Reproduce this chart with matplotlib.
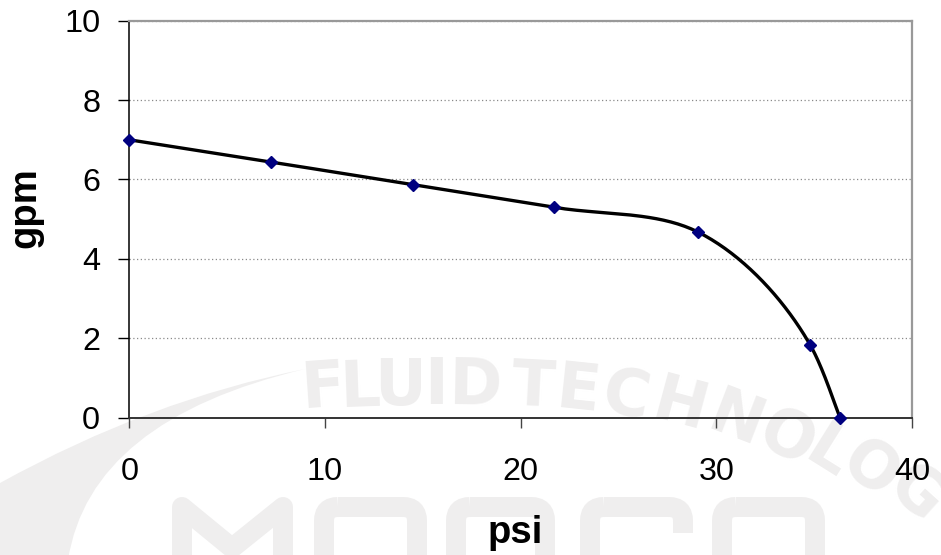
import numpy as np
import matplotlib
matplotlib.use("Agg")
import matplotlib.pyplot as plt
from matplotlib.path import Path
from matplotlib.patches import PathPatch, FancyBboxPatch, Rectangle

# ---- data ----
psi = [0.0, 7.25, 14.48, 21.7, 29.05, 34.8, 36.32]
gpm = [7.0, 6.44, 5.87, 5.30, 4.68, 1.83, 0.0]
x_ticks = [0, 10, 20, 30, 40]
y_ticks = [0, 2, 4, 6, 8, 10]
x_label = "psi"
y_label = "gpm"
wm_word1 = "FLUID TECHNOLOG"   # the visible part of the watermark (rest is off-canvas)
wm_word2 = "MARCO"

W, H = 941, 555
plt.rcParams['font.family'] = ['Liberation Sans', 'DejaVu Sans']
fig = plt.figure(figsize=(W / 100, H / 100), dpi=100)
fig.patch.set_facecolor('white')

# ---- watermark layer (pixel coordinates) ----
bg = fig.add_axes([0, 0, 1, 1], zorder=-1)
bg.set_xlim(0, W)
bg.set_ylim(H, 0)
bg.axis('off')
wm = '#efeeee'

# swoosh
verts = [(0, 483), (150, 400), (305, 369), (90, 420), (68, 560), (0, 560), (0, 483)]
codes = [Path.MOVETO, Path.CURVE3, Path.CURVE3, Path.CURVE3, Path.CURVE3,
         Path.LINETO, Path.CLOSEPOLY]
bg.add_patch(PathPatch(Path(verts, codes), facecolor=wm, edgecolor='none'))

# arc text
letters_pos = [(323, 389, 4), (360, 388, 2), (400, 387, 0), (436, 386, 0),
               (475, 386, -1), (None, None, None),
               (533, 388, -3), (578, 391, -6), (626, 397, -10), (680, 407, -15),
               (736, 421, -21), (787, 439, -27), (828, 453, -32), (870, 470, -37),
               (916, 494, -42)]
for ch, (lx, ly, rot) in zip(wm_word1, letters_pos):
    if ch == ' ':
        continue
    bg.text(lx, ly, ch, color=wm, fontsize=46, fontweight='bold',
            family='DejaVu Sans', ha='center', va='center',
            rotation=rot, rotation_mode='anchor')

# big "MARCO" letters drawn as thick strokes
lw_pt = 20 * 72 / 100
bg.plot([182, 182, 232, 283, 283], [580, 507, 548, 507, 580], color=wm,
        lw=lw_pt, solid_joinstyle='round', solid_capstyle='butt')
for (x0, x1) in [(324, 417), (456, 545), (590, 683), (722, 815)]:
    bg.add_patch(FancyBboxPatch((x0, 507), x1 - x0, 120,
                                boxstyle="round,pad=0,rounding_size=14",
                                fill=False, edgecolor=wm, lw=lw_pt))
bg.add_patch(Rectangle((673, 533), 30, 40, facecolor='white', edgecolor='none'))

# ---- main chart ----
left, right, top, bottom = 129.3, 912.0, 20.7, 417.7
ax = fig.add_axes([left / W, 1 - bottom / H, (right - left) / W, (bottom - top) / H],
                  zorder=1)
ax.set_facecolor('none')
ax.set_xlim(0, 40)
ax.set_ylim(0, 10)

# smooth line through the points (chord-length Catmull-Rom in screen space)
sxs = (right - left) / 40.0
sys_ = (bottom - top) / 10.0


def smooth_curve(xs, ys, n=40):
    S = np.column_stack([np.asarray(xs) * sxs, np.asarray(ys) * sys_])
    k = len(S)
    d = np.linalg.norm(np.diff(S, axis=0), axis=1)
    m = np.zeros_like(S)
    m[0] = 0.5 * (S[1] - S[0]) / d[0]
    m[-1] = 0.5 * (S[-1] - S[-2]) / d[-1]
    for i in range(1, k - 1):
        v1 = (S[i] - S[i - 1]) / d[i - 1]
        v2 = (S[i + 1] - S[i]) / d[i]
        m[i] = (d[i] * v1 + d[i - 1] * v2) / (d[i - 1] + d[i])
    out = [S[0]]
    t = np.linspace(0, 1, n)[1:, None]
    for i in range(k - 1):
        p1, p2 = S[i], S[i + 1]
        c1 = p1 + m[i] * d[i] / 3
        c2 = p2 - m[i + 1] * d[i] / 3
        seg = ((1 - t) ** 3) * p1 + 3 * ((1 - t) ** 2) * t * c1 \
            + 3 * (1 - t) * t ** 2 * c2 + t ** 3 * p2
        out.extend(seg)
    out = np.array(out)
    return out[:, 0] / sxs, out[:, 1] / sys_


cx, cy = smooth_curve(psi, gpm)
ax.plot(cx, cy, color='black', lw=2.4, zorder=3, clip_on=False)
ax.plot(psi, gpm, linestyle='none', marker='D', ms=6.2, color='#000080',
        markeredgecolor='#000080', zorder=4, clip_on=False)

ax.set_xticks(x_ticks)
ax.set_yticks(y_ticks)
ax.set_xticklabels([str(v) for v in x_ticks])
ax.set_yticklabels([str(v) for v in y_ticks])
ax.yaxis.grid(True, color='#8a8a8a', linestyle=(0, (1, 2)), lw=0.9)
ax.set_axisbelow(True)

for s in ['top', 'right']:
    ax.spines[s].set_color('#999999')
    ax.spines[s].set_linewidth(1.6)
ax.spines['left'].set_color('black')
ax.spines['left'].set_linewidth(1.1)
ax.spines['bottom'].set_color('#333333')
ax.spines['bottom'].set_linewidth(1.4)

ax.tick_params(axis='y', direction='out', length=8, width=1, color='black',
               labelsize=23.3, pad=13, labelcolor='black')
ax.tick_params(axis='x', direction='out', length=7.5, width=1, color='#444444',
               labelsize=23.3, pad=21, labelcolor='black')

fig.text(25 / W, 1 - 208 / H, y_label, rotation=90, ha='center', va='center',
         fontsize=27.5, fontweight='bold')
fig.text(515 / W, 1 - 533 / H, x_label, ha='center', va='center',
         fontsize=27.5, fontweight='bold')

fig.savefig('out.png', dpi=100)
